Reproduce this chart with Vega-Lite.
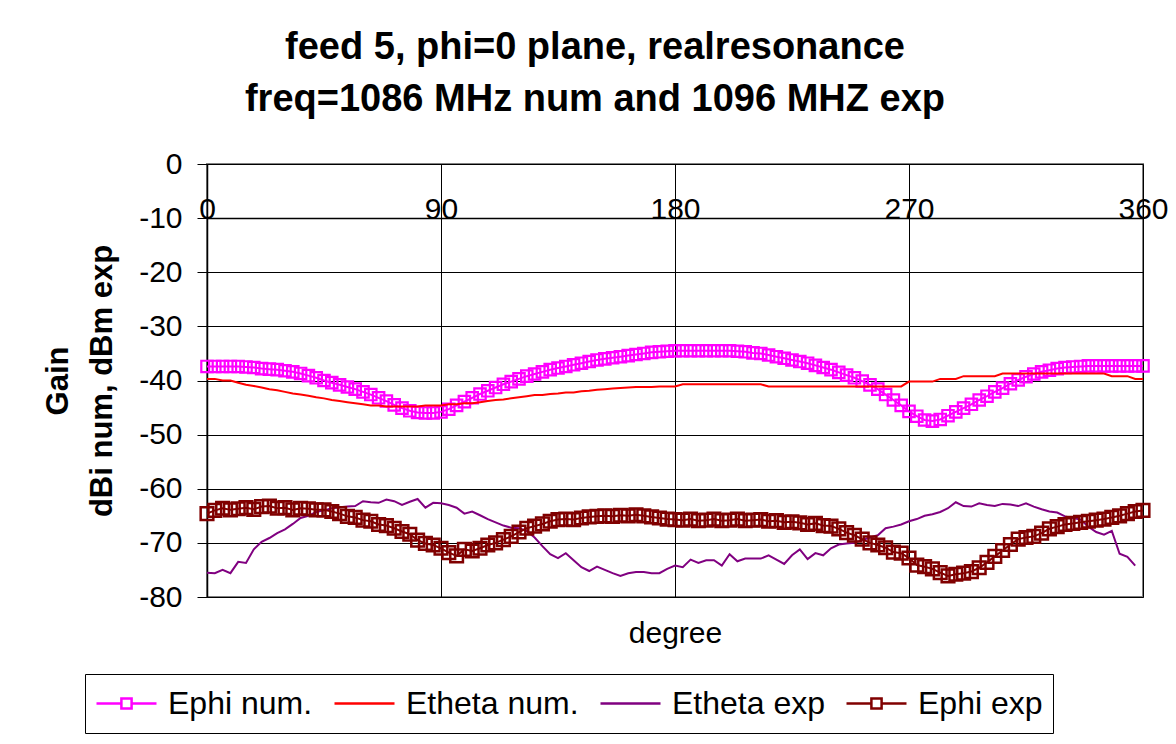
{
  "$schema": "https://vega.github.io/schema/vega-lite/v6.json",
  "width": 936,
  "height": 433,
  "autosize": "none",
  "padding": {"left": 207, "top": 164, "right": 33, "bottom": 147},
  "background": "white",
  "config": {"font": "Liberation Sans", "view": {"stroke": "#808080", "strokeWidth": 2}},
  "title": {
    "text": ["feed 5, phi=0 plane, realresonance", "freq=1086 MHz num and 1096 MHZ exp"],
    "fontSize": 38, "fontWeight": "bold", "font": "Liberation Sans", "lineHeight": 52,
    "anchor": "middle", "frame": "group", "dx": -80, "offset": -8, "baseline": "bottom", "color": "black"
  },
  "data": {"values": [
    {"deg":0,"ephi_num":-37.4,"etheta_num":-39.7,"etheta_exp":-75.5,"ephi_exp":-64.6},
    {"deg":3,"ephi_num":-37.4,"etheta_num":-39.7,"etheta_exp":-75.6,"ephi_exp":-64.0},
    {"deg":6,"ephi_num":-37.4,"etheta_num":-40.0,"etheta_exp":-75.0,"ephi_exp":-63.6},
    {"deg":9,"ephi_num":-37.4,"etheta_num":-40.0,"etheta_exp":-75.6,"ephi_exp":-63.9},
    {"deg":12,"ephi_num":-37.4,"etheta_num":-40.4,"etheta_exp":-73.5,"ephi_exp":-63.7},
    {"deg":15,"ephi_num":-37.5,"etheta_num":-40.8,"etheta_exp":-73.7,"ephi_exp":-63.5},
    {"deg":18,"ephi_num":-37.6,"etheta_num":-41.0,"etheta_exp":-71.2,"ephi_exp":-63.8},
    {"deg":21,"ephi_num":-37.8,"etheta_num":-41.3,"etheta_exp":-69.8,"ephi_exp":-63.3},
    {"deg":24,"ephi_num":-37.9,"etheta_num":-41.6,"etheta_exp":-69.1,"ephi_exp":-63.2},
    {"deg":27,"ephi_num":-38.0,"etheta_num":-41.8,"etheta_exp":-68.2,"ephi_exp":-63.6},
    {"deg":30,"ephi_num":-38.2,"etheta_num":-42.1,"etheta_exp":-67.5,"ephi_exp":-63.5},
    {"deg":33,"ephi_num":-38.4,"etheta_num":-42.4,"etheta_exp":-66.5,"ephi_exp":-63.9},
    {"deg":36,"ephi_num":-38.7,"etheta_num":-42.6,"etheta_exp":-65.4,"ephi_exp":-63.6},
    {"deg":39,"ephi_num":-39.1,"etheta_num":-42.8,"etheta_exp":-65.0,"ephi_exp":-63.7},
    {"deg":42,"ephi_num":-39.5,"etheta_num":-43.1,"etheta_exp":-64.3,"ephi_exp":-63.9},
    {"deg":45,"ephi_num":-40.0,"etheta_num":-43.3,"etheta_exp":-64.0,"ephi_exp":-63.9},
    {"deg":48,"ephi_num":-40.4,"etheta_num":-43.6,"etheta_exp":-63.6,"ephi_exp":-64.2},
    {"deg":51,"ephi_num":-40.8,"etheta_num":-43.8,"etheta_exp":-63.4,"ephi_exp":-64.6},
    {"deg":54,"ephi_num":-41.2,"etheta_num":-44.0,"etheta_exp":-63.3,"ephi_exp":-65.1},
    {"deg":57,"ephi_num":-41.6,"etheta_num":-44.2,"etheta_exp":-63.2,"ephi_exp":-65.3},
    {"deg":60,"ephi_num":-42.1,"etheta_num":-44.4,"etheta_exp":-62.3,"ephi_exp":-65.8},
    {"deg":63,"ephi_num":-42.6,"etheta_num":-44.6,"etheta_exp":-62.5,"ephi_exp":-66.0},
    {"deg":66,"ephi_num":-43.2,"etheta_num":-44.6,"etheta_exp":-62.6,"ephi_exp":-66.6},
    {"deg":69,"ephi_num":-43.8,"etheta_num":-44.8,"etheta_exp":-62.0,"ephi_exp":-66.8},
    {"deg":72,"ephi_num":-44.5,"etheta_num":-44.8,"etheta_exp":-62.3,"ephi_exp":-67.3},
    {"deg":75,"ephi_num":-45.1,"etheta_num":-44.8,"etheta_exp":-63.0,"ephi_exp":-67.9},
    {"deg":78,"ephi_num":-45.6,"etheta_num":-44.8,"etheta_exp":-62.4,"ephi_exp":-68.4},
    {"deg":81,"ephi_num":-45.9,"etheta_num":-44.8,"etheta_exp":-61.9,"ephi_exp":-69.5},
    {"deg":84,"ephi_num":-46.0,"etheta_num":-44.6,"etheta_exp":-63.5,"ephi_exp":-70.1},
    {"deg":87,"ephi_num":-46.0,"etheta_num":-44.6,"etheta_exp":-62.6,"ephi_exp":-70.4},
    {"deg":90,"ephi_num":-45.8,"etheta_num":-44.6,"etheta_exp":-62.7,"ephi_exp":-71.0},
    {"deg":93,"ephi_num":-45.3,"etheta_num":-44.4,"etheta_exp":-63.0,"ephi_exp":-71.8},
    {"deg":96,"ephi_num":-44.6,"etheta_num":-44.4,"etheta_exp":-63.5,"ephi_exp":-72.4},
    {"deg":99,"ephi_num":-43.9,"etheta_num":-44.2,"etheta_exp":-64.6,"ephi_exp":-71.2},
    {"deg":102,"ephi_num":-43.2,"etheta_num":-44.2,"etheta_exp":-64.2,"ephi_exp":-71.5},
    {"deg":105,"ephi_num":-42.5,"etheta_num":-44.0,"etheta_exp":-64.9,"ephi_exp":-71.0},
    {"deg":108,"ephi_num":-41.9,"etheta_num":-43.8,"etheta_exp":-65.6,"ephi_exp":-70.4},
    {"deg":111,"ephi_num":-41.3,"etheta_num":-43.6,"etheta_exp":-66.2,"ephi_exp":-70.0},
    {"deg":114,"ephi_num":-40.7,"etheta_num":-43.5,"etheta_exp":-66.8,"ephi_exp":-69.4},
    {"deg":117,"ephi_num":-40.2,"etheta_num":-43.3,"etheta_exp":-67.2,"ephi_exp":-68.8},
    {"deg":120,"ephi_num":-39.7,"etheta_num":-43.1,"etheta_exp":-67.3,"ephi_exp":-68.0},
    {"deg":123,"ephi_num":-39.2,"etheta_num":-42.9,"etheta_exp":-67.8,"ephi_exp":-67.3},
    {"deg":126,"ephi_num":-38.8,"etheta_num":-42.7,"etheta_exp":-69.0,"ephi_exp":-66.9},
    {"deg":129,"ephi_num":-38.4,"etheta_num":-42.7,"etheta_exp":-70.6,"ephi_exp":-66.5},
    {"deg":132,"ephi_num":-38.0,"etheta_num":-42.5,"etheta_exp":-72.1,"ephi_exp":-66.0},
    {"deg":135,"ephi_num":-37.7,"etheta_num":-42.4,"etheta_exp":-72.8,"ephi_exp":-65.7},
    {"deg":138,"ephi_num":-37.4,"etheta_num":-42.2,"etheta_exp":-71.9,"ephi_exp":-65.6},
    {"deg":141,"ephi_num":-37.1,"etheta_num":-42.2,"etheta_exp":-73.2,"ephi_exp":-65.7},
    {"deg":144,"ephi_num":-36.8,"etheta_num":-42.0,"etheta_exp":-74.5,"ephi_exp":-65.4},
    {"deg":147,"ephi_num":-36.5,"etheta_num":-41.9,"etheta_exp":-75.2,"ephi_exp":-65.2},
    {"deg":150,"ephi_num":-36.2,"etheta_num":-41.7,"etheta_exp":-74.4,"ephi_exp":-65.1},
    {"deg":153,"ephi_num":-36.0,"etheta_num":-41.6,"etheta_exp":-75.0,"ephi_exp":-65.0},
    {"deg":156,"ephi_num":-35.8,"etheta_num":-41.5,"etheta_exp":-75.6,"ephi_exp":-65.1},
    {"deg":159,"ephi_num":-35.6,"etheta_num":-41.4,"etheta_exp":-76.1,"ephi_exp":-64.9},
    {"deg":162,"ephi_num":-35.4,"etheta_num":-41.3,"etheta_exp":-75.6,"ephi_exp":-65.0},
    {"deg":165,"ephi_num":-35.2,"etheta_num":-41.2,"etheta_exp":-75.4,"ephi_exp":-64.8},
    {"deg":168,"ephi_num":-35.0,"etheta_num":-41.2,"etheta_exp":-75.4,"ephi_exp":-65.0},
    {"deg":171,"ephi_num":-34.8,"etheta_num":-41.2,"etheta_exp":-75.6,"ephi_exp":-65.2},
    {"deg":174,"ephi_num":-34.7,"etheta_num":-41.1,"etheta_exp":-75.6,"ephi_exp":-65.4},
    {"deg":177,"ephi_num":-34.6,"etheta_num":-41.1,"etheta_exp":-74.8,"ephi_exp":-65.6},
    {"deg":180,"ephi_num":-34.5,"etheta_num":-41.1,"etheta_exp":-74.2,"ephi_exp":-65.7},
    {"deg":183,"ephi_num":-34.5,"etheta_num":-40.7,"etheta_exp":-74.5,"ephi_exp":-65.8},
    {"deg":186,"ephi_num":-34.5,"etheta_num":-40.7,"etheta_exp":-73.1,"ephi_exp":-65.6},
    {"deg":189,"ephi_num":-34.5,"etheta_num":-40.7,"etheta_exp":-73.7,"ephi_exp":-65.9},
    {"deg":192,"ephi_num":-34.5,"etheta_num":-40.7,"etheta_exp":-73.2,"ephi_exp":-65.8},
    {"deg":195,"ephi_num":-34.5,"etheta_num":-40.7,"etheta_exp":-73.2,"ephi_exp":-65.6},
    {"deg":198,"ephi_num":-34.5,"etheta_num":-40.7,"etheta_exp":-74.2,"ephi_exp":-65.9},
    {"deg":201,"ephi_num":-34.5,"etheta_num":-40.7,"etheta_exp":-72.1,"ephi_exp":-65.8},
    {"deg":204,"ephi_num":-34.6,"etheta_num":-40.7,"etheta_exp":-73.4,"ephi_exp":-65.6},
    {"deg":207,"ephi_num":-34.7,"etheta_num":-40.7,"etheta_exp":-72.9,"ephi_exp":-65.9},
    {"deg":210,"ephi_num":-34.9,"etheta_num":-40.7,"etheta_exp":-72.9,"ephi_exp":-65.8},
    {"deg":213,"ephi_num":-35.0,"etheta_num":-40.7,"etheta_exp":-72.9,"ephi_exp":-65.7},
    {"deg":216,"ephi_num":-35.3,"etheta_num":-41.1,"etheta_exp":-72.3,"ephi_exp":-66.0},
    {"deg":219,"ephi_num":-35.6,"etheta_num":-41.1,"etheta_exp":-73.1,"ephi_exp":-65.9},
    {"deg":222,"ephi_num":-35.9,"etheta_num":-41.1,"etheta_exp":-73.9,"ephi_exp":-66.2},
    {"deg":225,"ephi_num":-36.2,"etheta_num":-41.1,"etheta_exp":-72.3,"ephi_exp":-66.1},
    {"deg":228,"ephi_num":-36.5,"etheta_num":-41.1,"etheta_exp":-71.2,"ephi_exp":-66.3},
    {"deg":231,"ephi_num":-36.8,"etheta_num":-41.1,"etheta_exp":-73.0,"ephi_exp":-66.6},
    {"deg":234,"ephi_num":-37.2,"etheta_num":-41.1,"etheta_exp":-71.9,"ephi_exp":-66.4},
    {"deg":237,"ephi_num":-37.6,"etheta_num":-41.1,"etheta_exp":-72.3,"ephi_exp":-66.8},
    {"deg":240,"ephi_num":-38.0,"etheta_num":-41.1,"etheta_exp":-71.0,"ephi_exp":-66.9},
    {"deg":243,"ephi_num":-38.5,"etheta_num":-41.1,"etheta_exp":-70.3,"ephi_exp":-67.4},
    {"deg":246,"ephi_num":-39.0,"etheta_num":-41.1,"etheta_exp":-70.1,"ephi_exp":-68.1},
    {"deg":249,"ephi_num":-39.5,"etheta_num":-41.1,"etheta_exp":-70.0,"ephi_exp":-68.6},
    {"deg":252,"ephi_num":-40.1,"etheta_num":-41.1,"etheta_exp":-69.5,"ephi_exp":-69.3},
    {"deg":255,"ephi_num":-40.8,"etheta_num":-41.1,"etheta_exp":-69.0,"ephi_exp":-70.0},
    {"deg":258,"ephi_num":-41.6,"etheta_num":-41.1,"etheta_exp":-68.6,"ephi_exp":-70.4},
    {"deg":261,"ephi_num":-42.6,"etheta_num":-41.1,"etheta_exp":-67.3,"ephi_exp":-70.9},
    {"deg":264,"ephi_num":-43.6,"etheta_num":-41.1,"etheta_exp":-67.0,"ephi_exp":-71.7},
    {"deg":267,"ephi_num":-44.6,"etheta_num":-41.1,"etheta_exp":-66.6,"ephi_exp":-71.9},
    {"deg":270,"ephi_num":-45.7,"etheta_num":-40.2,"etheta_exp":-66.0,"ephi_exp":-72.8},
    {"deg":273,"ephi_num":-46.6,"etheta_num":-40.2,"etheta_exp":-65.6,"ephi_exp":-74.1},
    {"deg":276,"ephi_num":-47.3,"etheta_num":-40.2,"etheta_exp":-65.0,"ephi_exp":-74.4},
    {"deg":279,"ephi_num":-47.5,"etheta_num":-40.2,"etheta_exp":-64.7,"ephi_exp":-74.8},
    {"deg":282,"ephi_num":-47.2,"etheta_num":-39.7,"etheta_exp":-64.3,"ephi_exp":-75.5},
    {"deg":285,"ephi_num":-46.5,"etheta_num":-39.7,"etheta_exp":-63.6,"ephi_exp":-76.1},
    {"deg":288,"ephi_num":-45.8,"etheta_num":-39.7,"etheta_exp":-62.5,"ephi_exp":-75.8},
    {"deg":291,"ephi_num":-45.1,"etheta_num":-39.2,"etheta_exp":-63.2,"ephi_exp":-75.6},
    {"deg":294,"ephi_num":-44.4,"etheta_num":-39.2,"etheta_exp":-63.3,"ephi_exp":-75.3},
    {"deg":297,"ephi_num":-43.6,"etheta_num":-39.2,"etheta_exp":-62.7,"ephi_exp":-74.6},
    {"deg":300,"ephi_num":-42.9,"etheta_num":-39.2,"etheta_exp":-63.0,"ephi_exp":-73.6},
    {"deg":303,"ephi_num":-42.1,"etheta_num":-39.2,"etheta_exp":-63.2,"ephi_exp":-72.5},
    {"deg":306,"ephi_num":-41.4,"etheta_num":-38.7,"etheta_exp":-62.8,"ephi_exp":-71.4},
    {"deg":309,"ephi_num":-40.6,"etheta_num":-38.7,"etheta_exp":-62.9,"ephi_exp":-70.3},
    {"deg":312,"ephi_num":-39.9,"etheta_num":-38.7,"etheta_exp":-63.2,"ephi_exp":-69.3},
    {"deg":315,"ephi_num":-39.3,"etheta_num":-38.7,"etheta_exp":-62.7,"ephi_exp":-69.0},
    {"deg":318,"ephi_num":-38.8,"etheta_num":-38.7,"etheta_exp":-63.3,"ephi_exp":-68.8},
    {"deg":321,"ephi_num":-38.4,"etheta_num":-38.7,"etheta_exp":-63.8,"ephi_exp":-68.2},
    {"deg":324,"ephi_num":-38.1,"etheta_num":-38.7,"etheta_exp":-64.2,"ephi_exp":-67.4},
    {"deg":327,"ephi_num":-37.8,"etheta_num":-38.7,"etheta_exp":-64.4,"ephi_exp":-67.0},
    {"deg":330,"ephi_num":-37.6,"etheta_num":-38.7,"etheta_exp":-65.1,"ephi_exp":-66.6},
    {"deg":333,"ephi_num":-37.5,"etheta_num":-38.7,"etheta_exp":-65.4,"ephi_exp":-66.4},
    {"deg":336,"ephi_num":-37.4,"etheta_num":-38.7,"etheta_exp":-65.7,"ephi_exp":-66.2},
    {"deg":339,"ephi_num":-37.3,"etheta_num":-38.7,"etheta_exp":-67.0,"ephi_exp":-66.0},
    {"deg":342,"ephi_num":-37.3,"etheta_num":-38.7,"etheta_exp":-68.0,"ephi_exp":-65.8},
    {"deg":345,"ephi_num":-37.3,"etheta_num":-38.7,"etheta_exp":-68.5,"ephi_exp":-65.6},
    {"deg":348,"ephi_num":-37.3,"etheta_num":-39.2,"etheta_exp":-67.8,"ephi_exp":-65.3},
    {"deg":351,"ephi_num":-37.3,"etheta_num":-39.2,"etheta_exp":-72.0,"ephi_exp":-65.0},
    {"deg":354,"ephi_num":-37.3,"etheta_num":-39.2,"etheta_exp":-72.6,"ephi_exp":-64.6},
    {"deg":357,"ephi_num":-37.3,"etheta_num":-39.7,"etheta_exp":-74.2,"ephi_exp":-64.2},
    {"deg":360,"ephi_num":-37.3,"etheta_num":-39.7,"etheta_exp":null,"ephi_exp":-64.0}
  ]},
  "transform": [{"fold": ["ephi_num", "etheta_num", "etheta_exp", "ephi_exp"], "as": ["series", "gain"]}],
  "encoding": {
    "y": {
      "field": "gain", "type": "quantitative",
      "scale": {"domain": [-80, 0], "nice": false, "zero": false},
      "axis": {
        "values": [0, -10, -20, -30, -40, -50, -60, -70, -80],
        "labelExpr": "datum.value == 0 ? '0' : '-' + abs(datum.value)",
        "grid": true, "gridColor": "black", "gridOpacity": 1, "gridWidth": 1,
        "domainColor": "black", "domainWidth": 1.5,
        "ticks": true, "tickColor": "black", "tickSize": 10, "tickWidth": 1,
        "labelFontSize": 30, "labelPadding": 15, "labelColor": "black",
        "title": ["Gain", "dBi num, dBm exp"], "titleFontSize": 31, "titleFontWeight": "bold",
        "titleLineHeight": 44, "titlePadding": 20, "titleColor": "black"
      }
    },
    "color": {
      "field": "series", "type": "nominal",
      "scale": {"domain": ["ephi_num", "etheta_num", "etheta_exp", "ephi_exp"], "range": ["#FF00FF", "#FF0000", "#800080", "#800000"]},
      "legend": {
        "orient": "none", "legendX": -122, "legendY": 510, "direction": "horizontal", "title": null,
        "labelExpr": "datum.value==='ephi_num'?'Ephi num.':datum.value==='etheta_num'?'Etheta num.':datum.value==='etheta_exp'?'Etheta exp':'Ephi exp'",
        "labelFontSize": 32, "labelColor": "black", "labelOffset": 10, "labelLimit": 400,
        "columnPadding": 20, "symbolSize": 3600, "symbolStrokeWidth": 2.5,
        "strokeColor": "black", "fillColor": "white", "padding": 10, "clipHeight": 39,
        "encode": {
          "symbols": {
            "update": {
              "shape": {"signal": "datum.value==='ephi_num'||datum.value==='ephi_exp' ? 'M-1,0H-0.17M0.17,0H1M-0.17,-0.17H0.17V0.17H-0.17Z' : 'M-1,0H1'"},
              "fill": {"value": "transparent"},
              "stroke": {"scale": "color", "field": "value"},
              "strokeWidth": {"value": 2.5}
            }
          }
        }
      }
    }
  },
  "layer": [
    {
      "transform": [{"filter": "datum.series==='ephi_num'"}],
      "mark": {"type": "line", "strokeWidth": 2},
      "encoding": {
        "x": {
          "field": "deg", "type": "quantitative", "scale": {"domain": [0, 360], "nice": false},
          "axis": {
            "orient": "top", "offset": -54, "values": [0, 90, 180, 270, 360],
            "grid": false, "ticks": false, "tickSize": 0, "domain": true, "domainColor": "black", "domainWidth": 1.5,
            "labelFontSize": 30, "labelColor": "black", "labelBaseline": "alphabetic", "labelPadding": 0,
            "labelFlush": false, "labelOverlap": false, "labelBound": false, "title": null
          }
        }
      }
    },
    {
      "transform": [{"filter": "datum.series==='ephi_num'"}],
      "mark": {"type": "point", "shape": "square", "filled": false, "size": 130, "strokeWidth": 2.2, "opacity": 1},
      "encoding": {"x": {"field": "deg", "type": "quantitative", "axis": null}}
    },
    {
      "transform": [{"filter": "datum.series==='etheta_num' || datum.series==='etheta_exp'"}],
      "mark": {"type": "line", "strokeWidth": 2},
      "encoding": {
        "x": {
          "field": "deg", "type": "quantitative",
          "axis": {
            "orient": "bottom", "values": [0, 90, 180, 270, 360], "grid": true, "gridColor": "black", "gridOpacity": 1,
            "labels": false, "ticks": false, "domain": false,
            "title": "degree", "titleFontSize": 30, "titleFontWeight": "normal", "titlePadding": 21, "titleColor": "black"
          }
        }
      }
    },
    {
      "transform": [{"filter": "datum.series==='ephi_exp'"}],
      "mark": {"type": "line", "strokeWidth": 2},
      "encoding": {"x": {"field": "deg", "type": "quantitative", "axis": null}}
    },
    {
      "transform": [{"filter": "datum.series==='ephi_exp'"}],
      "mark": {"type": "point", "shape": "square", "filled": false, "size": 160, "strokeWidth": 2.5, "opacity": 1},
      "encoding": {"x": {"field": "deg", "type": "quantitative", "axis": null}}
    }
  ],
  "resolve": {"axis": {"x": "independent"}}
}
